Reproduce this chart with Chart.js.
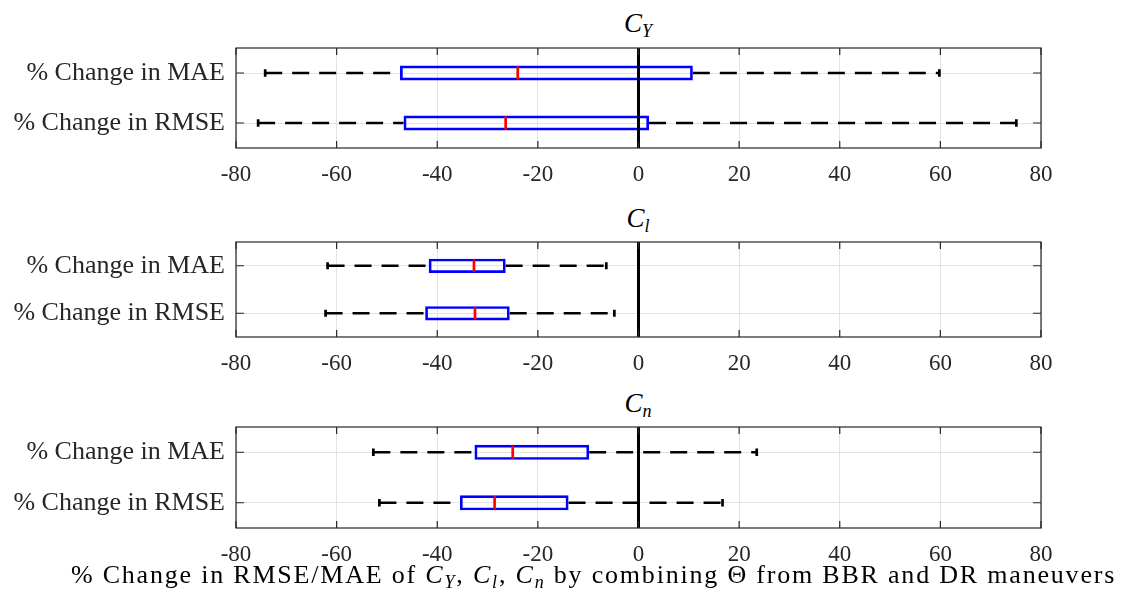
<!DOCTYPE html>
<html lang="en">
<head>
<meta charset="UTF-8">
<title>Boxplots of % change</title>
<script src="https://cdn.jsdelivr.net/npm/chart.js"></script>
<style>
  body { margin:0; background:#fff; width:1121px; height:593px; position:relative; overflow:hidden;
         font-family:"Liberation Serif", serif; color:#262626; }
  .panel { position:absolute; left:0; width:1121px; }
  .ttl { position:absolute; left:538px; width:200px; text-align:center; font-size:27px; color:#000; line-height:27px; }
  .ttl sub, .xl sub { font-size:18px; vertical-align:-5px; }
  .xl { position:absolute; left:60px; width:1067px; text-align:center; top:561px; font-size:26px; color:#000; line-height:28px; letter-spacing:1.8px; white-space:nowrap; }
</style>
</head>
<body>
<div class="ttl" style="top:10px"><i>C</i><sub><i>Y</i></sub></div>
<div class="ttl" style="top:205px"><i>C</i><sub><i>l</i></sub></div>
<div class="ttl" style="top:390px"><i>C</i><sub><i>n</i></sub></div>

<div class="panel" style="top:46px;height:140px"><canvas id="c1"></canvas></div>
<div class="panel" style="top:240px;height:135px"><canvas id="c2"></canvas></div>
<div class="panel" style="top:425px;height:141px"><canvas id="c3"></canvas></div>

<div class="xl">% Change in RMSE/MAE of <i>C</i><sub><i>Y</i></sub>, <i>C</i><sub><i>l</i></sub>, <i>C</i><sub><i>n</i></sub> by combining &Theta; from BBR and DR maneuvers</div>

<script>
// categories and tick labels
const rows = ['% Change in MAE', '% Change in RMSE'];
const xTicks = [-80, -60, -40, -20, 0, 20, 40, 60, 80];

// C_Y
const cyLow  = [-74.2, -75.6];
const cyQ1   = [-47.4, -46.7];
const cyMed  = [-24.0, -26.4];
const cyQ3   = [10.8, 2.1];
const cyHigh = [59.8, 75.1];

// C_l
const clLow  = [-61.8, -62.2];
const clQ1   = [-41.7, -42.4];
const clMed  = [-32.7, -32.5];
const clQ3   = [-26.4, -25.6];
const clHigh = [-6.4, -4.8];

// C_n
const cnLow  = [-52.7, -51.5];
const cnQ1   = [-32.6, -35.5];
const cnMed  = [-25.0, -28.6];
const cnQ3   = [-9.8, -13.9];
const cnHigh = [23.5, 16.7];

const FONT = '"Liberation Serif", serif';
const INK = '#262626';

// whiskers, caps, medians, zero line, frame and inward ticks
const boxExtras = {
  id: 'boxExtras',
  afterDatasetsDraw(chart, args, opts) {
    const ctx = chart.ctx, x = chart.scales.x, y = chart.scales.y, a = chart.chartArea;
    const bars = chart.getDatasetMeta(0).data;
    ctx.save();
    rows.forEach(function(r, i){
      const py = y.getPixelForValue(i);
      const h = bars[i].height;
      const pLo = x.getPixelForValue(opts.low[i]), pQ1 = x.getPixelForValue(opts.q1[i]);
      const pQ3 = x.getPixelForValue(opts.q3[i]), pHi = x.getPixelForValue(opts.high[i]);
      // dashed whiskers
      ctx.strokeStyle = '#000';
      ctx.lineWidth = 2.7;
      ctx.setLineDash([17, 10]);
      ctx.beginPath(); ctx.moveTo(pLo, py); ctx.lineTo(pQ1, py); ctx.stroke();
      ctx.beginPath(); ctx.moveTo(pQ3, py); ctx.lineTo(pHi, py); ctx.stroke();
      ctx.setLineDash([]);
      // caps
      const ch = h * 0.25;
      ctx.beginPath();
      ctx.moveTo(pLo, py - ch); ctx.lineTo(pLo, py + ch);
      ctx.moveTo(pHi, py - ch); ctx.lineTo(pHi, py + ch);
      ctx.stroke();
      // median
      const pm = x.getPixelForValue(opts.med[i]);
      ctx.strokeStyle = '#ff0000';
      ctx.lineWidth = 2.7;
      ctx.beginPath(); ctx.moveTo(pm, py - h/2 + 1); ctx.lineTo(pm, py + h/2 - 1); ctx.stroke();
    });
    // zero line
    const p0 = x.getPixelForValue(0);
    ctx.strokeStyle = '#000';
    ctx.lineWidth = 3;
    ctx.beginPath(); ctx.moveTo(p0, a.top); ctx.lineTo(p0, a.bottom); ctx.stroke();
    // frame
    ctx.strokeStyle = INK;
    ctx.lineWidth = 1.2;
    ctx.strokeRect(a.left, a.top, a.right - a.left, a.bottom - a.top);
    // inward ticks
    ctx.beginPath();
    xTicks.forEach(function(v){
      const px = x.getPixelForValue(v);
      ctx.moveTo(px, a.top); ctx.lineTo(px, a.top + 7);
      ctx.moveTo(px, a.bottom); ctx.lineTo(px, a.bottom - 7);
    });
    rows.forEach(function(r, i){
      const py = y.getPixelForValue(i);
      ctx.moveTo(a.left, py); ctx.lineTo(a.left + 8, py);
      ctx.moveTo(a.right, py); ctx.lineTo(a.right - 8, py);
    });
    ctx.stroke();
    ctx.restore();
  }
};

function makeBox(id, low, q1, med, q3, high){
  const boxes = q1.map(function(v, i){ return [v, q3[i]]; });
  new Chart(document.getElementById(id), {
    type: 'bar',
    data: {
      labels: rows,
      datasets: [{
        data: boxes,
        backgroundColor: 'rgba(0,0,0,0)',
        borderColor: '#0000ff',
        borderWidth: 2.7,
        borderSkipped: false,
        barPercentage: 0.3,
        categoryPercentage: 1
      }]
    },
    options: {
      indexAxis: 'y',
      responsive: true,
      maintainAspectRatio: false,
      animation: false,
      events: [],
      layout: { padding: { top: 2, right: 80, left: 0, bottom: 0 } },
      plugins: {
        legend: { display: false },
        tooltip: { enabled: false },
        boxExtras: { low: low, q1: q1, med: med, q3: q3, high: high }
      },
      scales: {
        x: {
          type: 'linear', min: -80, max: 80,
          afterBuildTicks: function(s){ s.ticks = xTicks.map(function(v){ return { value: v }; }); },
          afterFit: function(s){ s.height = 38; },
          grid: { color: '#e2e2e2', lineWidth: 1, drawTicks: false },
          border: { display: false },
          ticks: { color: INK, padding: 13, font: { family: FONT, size: 23 }, maxRotation: 0 }
        },
        y: {
          afterFit: function(s){ s.width = 236; s.paddingTop = 0; s.paddingBottom = 0; },
          grid: { color: '#e2e2e2', lineWidth: 1, drawTicks: false, offset: false },
          border: { display: false },
          ticks: { color: INK, padding: 11, font: { family: FONT, size: 26 } }
        }
      }
    },
    plugins: [boxExtras]
  });
}

makeBox('c1', cyLow, cyQ1, cyMed, cyQ3, cyHigh);
makeBox('c2', clLow, clQ1, clMed, clQ3, clHigh);
makeBox('c3', cnLow, cnQ1, cnMed, cnQ3, cnHigh);
</script>
</body>
</html>
